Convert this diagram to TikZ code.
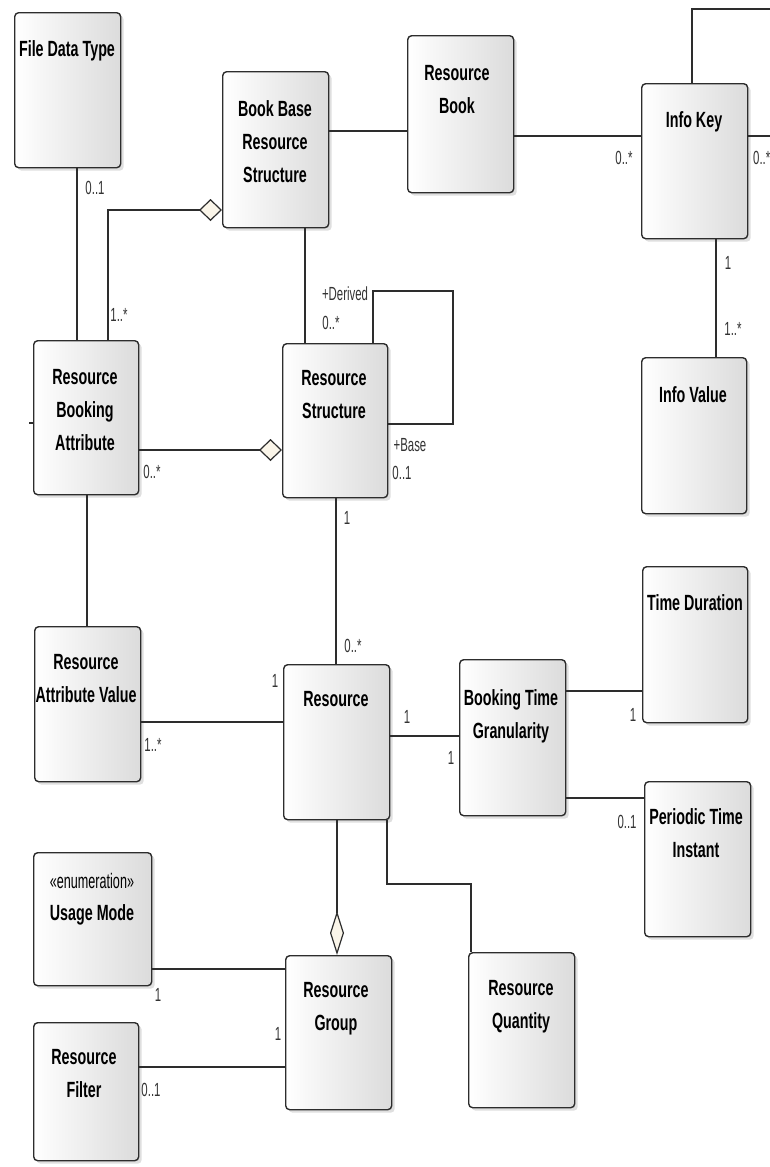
\documentclass[tikz,border=0pt]{standalone}
\usepackage{fontspec}
\usetikzlibrary{arrows.meta,shadows}
\newfontfamily\hfont{Liberation Sans}[FakeStretch=0.65]
\newfontfamily\lfont{Liberation Sans}[FakeStretch=0.6]
\definecolor{cream}{RGB}{250,245,233}
\definecolor{ink}{RGB}{45,45,45}
\tikzset{
  box/.style={draw=ink, line width=1.4pt, rounded corners=4pt, anchor=north west,
    left color=white, right color=black!14, inner sep=0pt,
    drop shadow={shadow xshift=3pt, shadow yshift=-3pt, opacity=0.25}},
  txt/.style={font=\hfont\bfseries\fontsize{22}{33}\selectfont, align=center, inner sep=0pt, anchor=north, text=black},
  lab/.style={font=\lfont\fontsize{19}{19}\selectfont, inner sep=0pt, text=black!80},
  con/.style={draw=ink, line width=1.2pt},
  agg/.style={Diamond[fill=cream, length=23pt, width=22pt, line width=1.1pt]},
}
\begin{document}
\begin{tikzpicture}[x=1pt,y=-1pt]
\useasboundingbox (0,0) rectangle (770,1167);
\clip (0,0) rectangle (770,1167);
\fill[white] (0,0) rectangle (770,1167);

% boxes
\node[box, minimum width=106pt, minimum height=155pt] (fdt) at (14,12) {};
\node[box, minimum width=106pt, minimum height=156pt] (bbrs) at (222,71) {};
\node[box, minimum width=106pt, minimum height=157pt] (rb) at (407,35) {};
\node[box, minimum width=106pt, minimum height=155pt] (ik) at (641,83) {};
\node[box, minimum width=105pt, minimum height=156pt] (iv) at (641,357) {};
\node[box, minimum width=105pt, minimum height=154pt] (rba) at (33,340) {};
\node[box, minimum width=105pt, minimum height=154pt] (rs) at (282,343) {};
\node[box, minimum width=106pt, minimum height=155pt] (rav) at (34,626) {};
\node[box, minimum width=106pt, minimum height=155pt] (res) at (283,664) {};
\node[box, minimum width=106pt, minimum height=156pt] (btg) at (459,659) {};
\node[box, minimum width=105pt, minimum height=156pt] (td) at (642,566) {};
\node[box, minimum width=106pt, minimum height=155pt] (pti) at (644,781) {};
\node[box, minimum width=118pt, minimum height=133pt] (um) at (33,852) {};
\node[box, minimum width=105pt, minimum height=138pt] (rf) at (33,1022) {};
\node[box, minimum width=106pt, minimum height=154pt] (rg) at (285,955) {};
\node[box, minimum width=106pt, minimum height=155pt] (rq) at (468,952) {};

% box texts
\node[txt] (fdtT) at (67,40) {File Data Type};
\node[txt] (bbrsT) at (275,100) {Book Base\\Resource\\Structure};
\node[txt] (rbT) at (457,65) {Resource\\Book};
\node[txt] (ikT) at (694,111) {Info Key};
\node[txt] (ivT) at (693,386) {Info Value};
\node[txt] (rbaT) at (85,369) {Resource\\Booking\\Attribute};
\node[txt] (rsT) at (334,370) {Resource\\Structure};
\node[txt] (ravT) at (86,654) {Resource\\Attribute Value};
\node[txt] (resT) at (336,691) {Resource};
\node[txt] (btgT) at (511,689) {Booking Time\\Granularity};
\node[txt] (tdT) at (695,594) {Time Duration};
\node[txt] (ptiT) at (696,808) {Periodic Time\\Instant};
\node[txt] (umT) at (92,873) {{\mdseries\lfont\fontsize{21}{33}\selectfont «enumeration»}\\[-1pt]Usage Mode};
\node[txt] (rfT) at (84,1049) {Resource\\Filter};
\node[txt] (rgT) at (336,982) {Resource\\Group};
\node[txt] (rqT) at (521,980) {Resource\\Quantity};

% connectors
\draw[con] (fdt.south -| 77,0) -- (rba.north -| 77,0);
\draw[con, {Diamond[fill=cream, length=23pt, width=22pt]}-] (bbrs.west |- 0,210) -- (108,210) -- (rba.north -| 108,0);
\draw[con] (bbrs.south -| 305,0) -- (rs.north -| 305,0);
\draw[con] (bbrs.east |- 0,131) -- (rb.west |- 0,131);
\draw[con] (rb.east |- 0,136) -- (ik.west |- 0,136);
\draw[con] (ik.north -| 692,0) -- (692,9) -- (790,9);
\draw[con] (ik.east |- 0,136) -- (790,136);
\draw[con] (ik.south -| 716,0) -- (iv.north -| 716,0);
\draw[con] (rs.north -| 373,0) -- (373,291) -- (453,291) -- (453,424) -- (rs.east |- 0,424);
\draw[con, -{Diamond[fill=cream, length=23pt, width=22pt]}] (rba.east |- 0,450) -- (rs.west |- 0,450);
\draw[con] (rba.south -| 87,0) -- (rav.north -| 87,0);
\draw[con] (29,423) -- (rba.west |- 0,423);
\draw[con] (rs.south -| 336,0) -- (res.north -| 336,0);
\draw[con] (rav.east |- 0,722) -- (res.west |- 0,722);
\draw[con] (res.east |- 0,736) -- (btg.west |- 0,736);
\draw[con] (btg.east |- 0,691) -- (td.west |- 0,691);
\draw[con] (btg.east |- 0,798) -- (pti.west |- 0,798);
\draw[con, -{Diamond[fill=cream, length=44pt, width=14pt]}] (res.south -| 337,0) -- (rg.north -| 337,0);
\draw[con] (res.south -| 387,0) -- (387,884) -- (471,884) -- (rq.north -| 471,0);
\draw[con] (um.east |- 0,969) -- (rg.west |- 0,969);
\draw[con] (rf.east |- 0,1067) -- (rg.west |- 0,1067);

% multiplicity labels
\node[lab] (m1) at (95,188) {0..1};
\node[lab] (m2) at (119,315) {1..*};
\node[lab] (m3) at (624,158) {0..*};
\node[lab, anchor=west] (m4) at (753,158) {0..*};
\node[lab] (m5) at (728,263) {1};
\node[lab] (m6) at (733,329) {1..*};
\node[lab] (m7) at (345,294) {+Derived};
\node[lab] (m8) at (331,323) {0..*};
\node[lab] (m9) at (410,445) {+Base};
\node[lab] (m10) at (402,473) {0..1};
\node[lab] (m11) at (152,472) {0..*};
\node[lab] (m12) at (347,518) {1};
\node[lab] (m13) at (353,646) {0..*};
\node[lab] (m14) at (275,681) {1};
\node[lab] (m15) at (153,745) {1..*};
\node[lab] (m16) at (407,717) {1};
\node[lab] (m17) at (451,758) {1};
\node[lab] (m18) at (633,715) {1};
\node[lab] (m19) at (627,822) {0..1};
\node[lab] (m20) at (158,995) {1};
\node[lab] (m21) at (278,1034) {1};
\node[lab] (m22) at (151,1090) {0..1};
\end{tikzpicture}
\end{document}
